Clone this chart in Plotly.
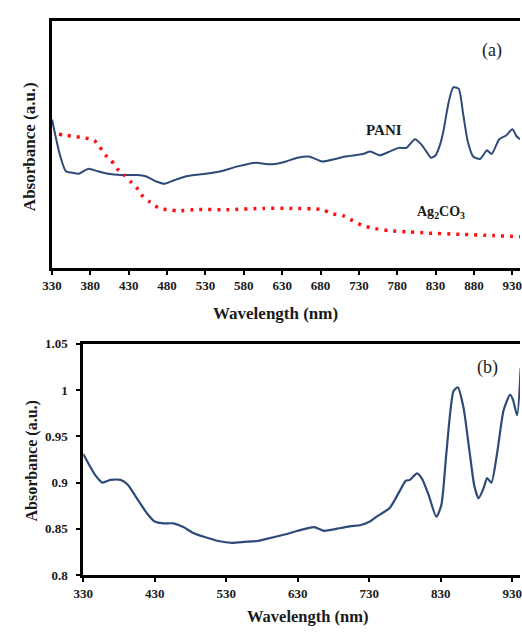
import plotly.graph_objects as go

# ---- (a) PANI and Ag2CO3 spectra (arbitrary absorbance units) ----
pani_a_nm = [330, 340, 348, 355, 365, 377, 390, 403, 420, 441, 452, 465, 477, 490, 505,
             530, 550, 572, 597, 608, 620, 635, 650, 665, 682, 699, 712, 735, 745, 757,
             770, 782, 792, 803, 811, 818, 824, 830, 836, 840, 847, 853, 860, 866, 872,
             879, 888, 897, 903, 913, 922, 930, 936, 940]
pani_a_abs = [0.60, 0.46, 0.39, 0.385, 0.38, 0.40, 0.39, 0.38, 0.375, 0.375, 0.37, 0.35, 0.34,
              0.355, 0.37, 0.38, 0.39, 0.41, 0.425, 0.42, 0.42, 0.43, 0.445, 0.45, 0.43,
              0.44, 0.45, 0.46, 0.47, 0.455, 0.47, 0.485, 0.485, 0.52, 0.50, 0.47, 0.445,
              0.455, 0.50, 0.55, 0.67, 0.73, 0.725, 0.62, 0.51, 0.45, 0.44, 0.475, 0.46,
              0.52, 0.535, 0.56, 0.53, 0.52]

ag_nm = [339, 350, 362, 373, 385, 392, 400, 407, 415, 424, 432, 440, 448, 458, 470, 481,
         493, 520, 560, 606, 640, 683, 693, 710, 722, 735, 748, 769, 795, 820, 862, 905, 940]
ag_abs = [0.54, 0.535, 0.53, 0.525, 0.515, 0.49, 0.455, 0.435, 0.40, 0.375, 0.35, 0.325,
          0.29, 0.265, 0.24, 0.235, 0.23, 0.235, 0.235, 0.24, 0.24, 0.235, 0.22, 0.21,
          0.19, 0.17, 0.16, 0.15, 0.145, 0.14, 0.135, 0.13, 0.125]

# ---- (b) PANI/Ag2CO3 spectrum ----
pani_b_nm = [330, 346, 357, 368, 382, 392, 405, 419, 430, 442, 456, 470, 483, 501, 519,
             538, 556, 574, 585, 612, 630, 653, 667, 690, 704, 717, 731, 740, 759, 772,
             781, 787, 797, 804, 813, 824, 831, 838, 848, 854, 862, 870, 877, 883, 890,
             895, 901, 909, 918, 927, 931, 937, 942]
pani_b_abs = [0.931, 0.909, 0.900, 0.903, 0.903, 0.898, 0.883, 0.867, 0.858, 0.856, 0.856,
              0.852, 0.846, 0.841, 0.837, 0.835, 0.836, 0.837, 0.839, 0.844, 0.848, 0.852,
              0.848, 0.851, 0.853, 0.854, 0.858, 0.863, 0.873, 0.890, 0.902, 0.903, 0.910,
              0.904, 0.887, 0.863, 0.876, 0.932, 0.999, 1.003, 0.981, 0.936, 0.897, 0.883,
              0.894, 0.905, 0.900, 0.932, 0.978, 0.995, 0.990, 0.973, 1.024]

ticks_a = list(range(330, 931, 50))
ticks_b = list(range(330, 931, 100))
yticks_b = [0.8, 0.85, 0.9, 0.95, 1.0, 1.05]
ytext_b = ["0.8", "0.85", "0.9", "0.95", "1", "1.05"]

BLUE = "#2d4a78"
RED = "#ff1010"
INK = "#1a1a1a"
FONT = "Liberation Serif"

fig = go.Figure()
fig.add_trace(go.Scatter(x=pani_a_nm, y=pani_a_abs, mode="lines",
                         line=dict(color=BLUE, width=2, shape="spline", smoothing=0.6),
                         xaxis="x", yaxis="y", showlegend=False))
fig.add_trace(go.Scatter(x=ag_nm, y=ag_abs, mode="lines",
                         line=dict(color=RED, width=3.5, dash="3px,6px", shape="spline", smoothing=0.6),
                         xaxis="x", yaxis="y", showlegend=False))
fig.add_trace(go.Scatter(x=pani_b_nm, y=pani_b_abs, mode="lines",
                         line=dict(color=BLUE, width=2.2, shape="spline", smoothing=0.6),
                         xaxis="x2", yaxis="y2", showlegend=False))

W, H = 522, 633
tickfont = dict(family=FONT, size=13, color=INK, weight="bold")
axis_common = dict(showgrid=False, zeroline=False, showline=True, linecolor="black",
                   linewidth=3, ticks="outside", tickcolor="black", tickwidth=1.5,
                   ticklen=4, tickfont=tickfont)

fig.update_layout(
    width=W, height=H, margin=dict(l=0, r=0, t=0, b=0),
    paper_bgcolor="white", plot_bgcolor="white",
    xaxis=dict(domain=[43 / W, 1], range=[330, 940], tickvals=ticks_a, mirror=True,
               anchor="y", ticklabeloverflow="allow", **axis_common),
    yaxis=dict(domain=[1 - 267 / H, 1 - 14 / H], range=[0, 1], showticklabels=False,
               showgrid=False, zeroline=False, showline=True, linecolor="black",
               linewidth=3, ticks="", anchor="x"),
    xaxis2=dict(domain=[75 / W, 1], range=[330, 941], tickvals=ticks_b, mirror=True,
                anchor="y2", ticklabeloverflow="allow", **axis_common),
    yaxis2=dict(domain=[1 - 582 / H, 1 - 345 / H], range=[0.8, 1.05], tickvals=yticks_b,
                ticktext=ytext_b, anchor="x2", ticklabelstandoff=6, **axis_common),
)

ann_font = dict(family=FONT, color=INK, weight="bold")
annotations = [
    dict(text="Absorbance (a.u.)", x=20 / W, y=1 - 143 / H, textangle=-90,
         font=dict(size=17, **ann_font)),
    dict(text="Wavelength (nm)", x=272 / W, y=1 - 314 / H, font=dict(size=17, **ann_font)),
    dict(text="Absorbance (a.u.)", x=22 / W, y=1 - 465 / H, textangle=-90,
         font=dict(size=16, **ann_font)),
    dict(text="Wavelength (nm)", x=305 / W, y=1 - 624 / H, font=dict(size=16.5, **ann_font)),
    dict(text="(a)", x=493 / W, y=1 - 45 / H, font=dict(family=FONT, size=18, color=INK)),
    dict(text="(b)", x=489 / W, y=1 - 369 / H, font=dict(family=FONT, size=18, color=INK)),
    dict(text="PANI", x=383 / W, y=1 - 126 / H, font=dict(size=15, **ann_font)),
    dict(text="Ag<sub>2</sub>CO<sub>3</sub>", x=441 / W, y=1 - 210 / H,
         font=dict(size=14, **ann_font)),
]
for a in annotations:
    a.update(xref="paper", yref="paper", showarrow=False, xanchor="center", yanchor="middle")
fig.update_layout(annotations=annotations)

fig.write_html("out.html")
